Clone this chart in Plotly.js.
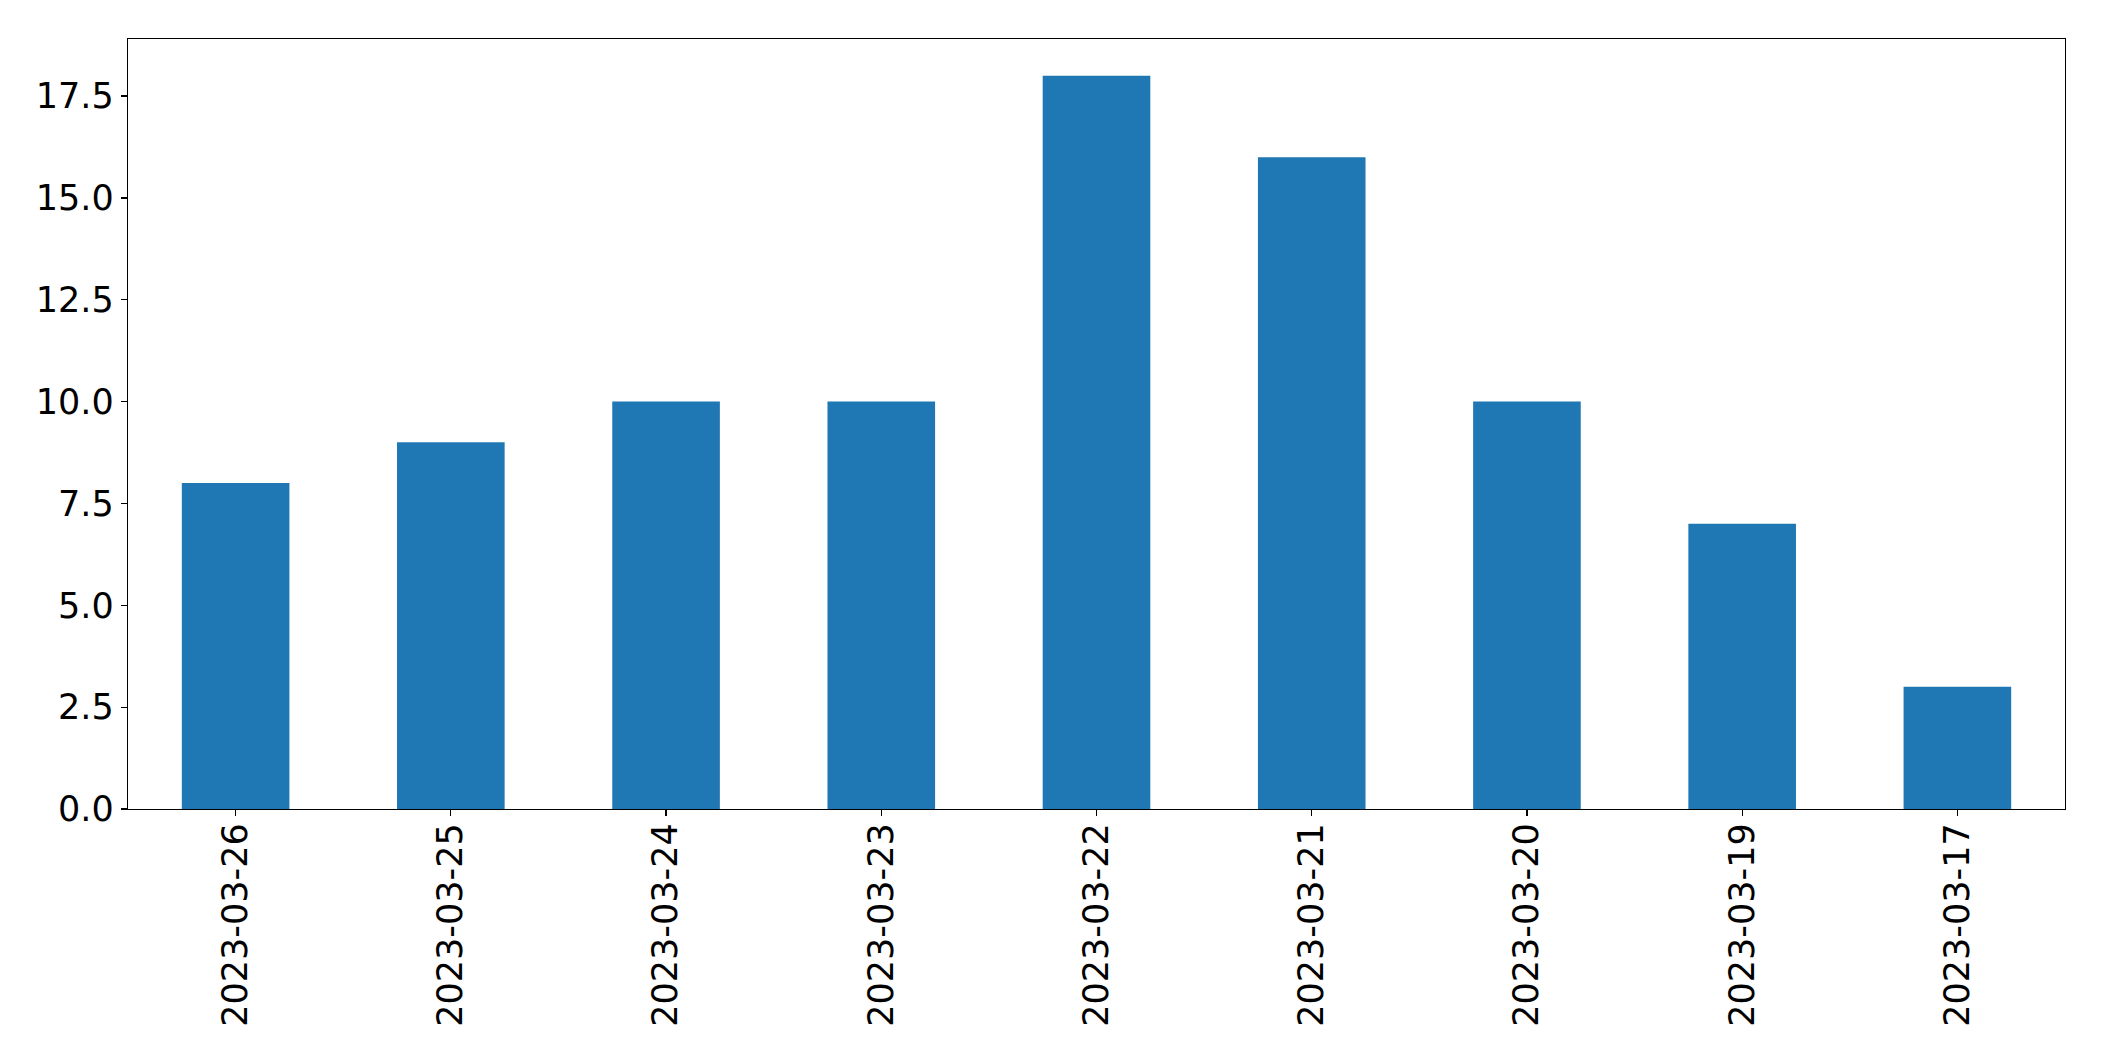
<!DOCTYPE html>
<html>
<head>
<meta charset="utf-8">
<script src="https://cdn.plot.ly/plotly-3.0.1.min.js"></script>
<style>html,body{margin:0;padding:0;background:#fff;}#chart{width:2104px;height:1061px;}</style>
</head>
<body>
<div id="chart"></div>
<script>
const dates = ["2023-03-26","2023-03-25","2023-03-24","2023-03-23","2023-03-22","2023-03-21","2023-03-20","2023-03-19","2023-03-17"];
const counts = [8, 9, 10, 10, 18, 16, 10, 7, 3];
const yTicks = [0, 2.5, 5, 7.5, 10, 12.5, 15, 17.5];

const font = {family: "DejaVu Sans", size: 35, color: "#000"};
Plotly.newPlot("chart", [{
  type: "bar",
  x: dates,
  y: counts,
  width: 0.5,
  marker: {color: "#1f77b4", line: {width: 0}},
  hoverinfo: "skip"
}], {
  width: 2104, height: 1061,
  margin: {l: 127.5, r: 38.7, t: 39.3, b: 252, pad: 0},
  paper_bgcolor: "#fff", plot_bgcolor: "#fff",
  showlegend: false,
  font: font,
  xaxis: {
    type: "category", range: [-0.5, 8.5],
    showline: true, mirror: true, linecolor: "#000", linewidth: 1.3,
    ticks: "outside", ticklen: 6, tickwidth: 1.3, tickcolor: "#000",
    tickangle: -90, tickfont: font, showgrid: false, zeroline: false,
    ticklabelstandoff: -7,
    automargin: false
  },
  yaxis: {
    range: [0, 18.9], tickvals: yTicks, tickformat: ".1f",
    showline: true, mirror: true, linecolor: "#000", linewidth: 1.3,
    ticks: "outside", ticklen: 6, tickwidth: 1.3, tickcolor: "#000",
    tickfont: font, showgrid: false, zeroline: false, automargin: false
  }
}, {staticPlot: true, displayModeBar: false});
</script>
</body>
</html>
